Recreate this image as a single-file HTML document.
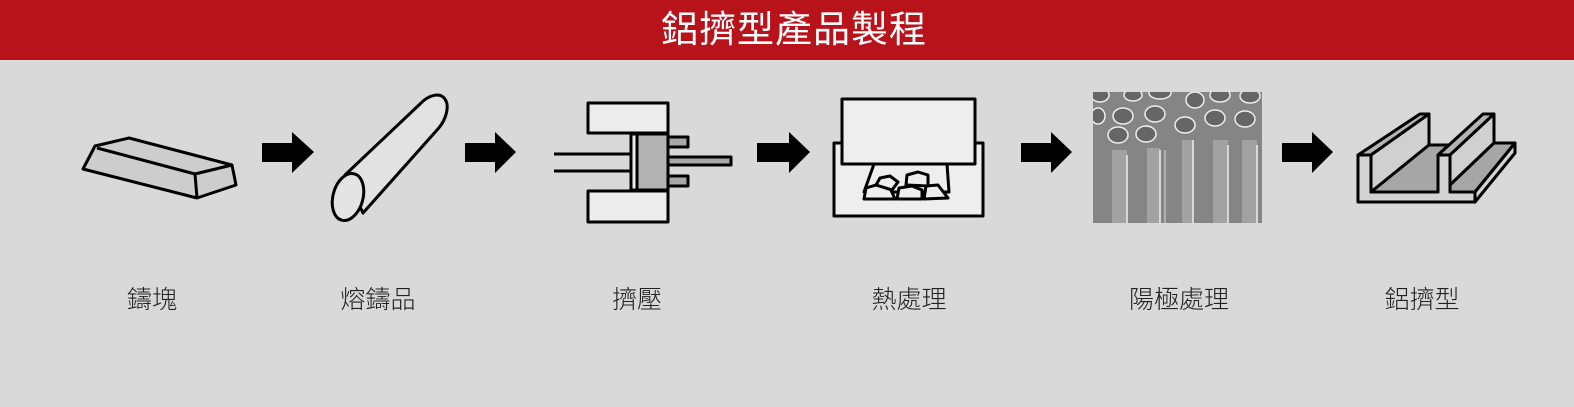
<!DOCTYPE html>
<html><head><meta charset="utf-8"><style>
html,body{margin:0;padding:0;}
body{width:1574px;height:407px;background:#d9d9d9;position:relative;overflow:hidden;font-family:"Liberation Sans","Noto Sans CJK TC",sans-serif;}
.bar{position:absolute;left:0;top:0;width:1574px;height:60px;background:#b8121b;}
.title{position:absolute;left:0;top:6px;width:1588px;text-align:center;color:#fff;font-size:37px;line-height:48px;letter-spacing:1px;}
.lbl{position:absolute;top:284px;font-size:25px;line-height:32px;color:#222;font-weight:300;transform:translateX(-50%);white-space:nowrap;}
svg{position:absolute;left:0;top:0;}
</style></head><body>
<div class="bar"></div>
<div class="title">鋁擠型產品製程</div>
<svg width="1574" height="407" viewBox="0 0 1574 407">
<defs>
<clipPath id="cp"><rect x="1093" y="92" width="169" height="131"/></clipPath>
</defs>
<g stroke="#000" stroke-width="3" stroke-linejoin="round" fill="none">
<!-- ingot -->
<polygon points="83,169 95,146 129,138 232,165 236,185 197,198" fill="#cdcdcd"/>
<polyline points="97,148 195,174 232,165"/>
<line x1="195" y1="174" x2="197" y2="198"/>
<!-- cylinder -->
<path d="M345,175 L420,104 A9,15 35 0 1 437,130 L363,213 Z" fill="#e2e2e2"/>
<ellipse cx="348" cy="197" rx="15" ry="24" transform="rotate(15 348 197)" fill="#e4e4e4"/>
<!-- press -->
<rect x="588" y="103" width="80" height="30" fill="#ececec"/>
<rect x="588" y="191" width="80" height="31" fill="#ececec"/>
<line x1="554" y1="154" x2="631" y2="154"/>
<line x1="554" y1="171" x2="631" y2="171"/>
<rect x="668" y="137" width="20" height="10" fill="#a8a8a8"/>
<rect x="668" y="176" width="20" height="10" fill="#a8a8a8"/>
<rect x="668" y="157" width="63" height="8" fill="#a8a8a8"/>
<rect x="631" y="134" width="6" height="56" fill="#ececec"/>
<rect x="637" y="134" width="31" height="56" fill="#b2b2b2"/>
<!-- furnace -->
<rect x="834" y="143" width="149" height="73" fill="#eeeeee"/>
<polygon points="874,164 864,192 949,192 947,164" fill="#eeeeee"/>
<rect x="842" y="99" width="133" height="65" fill="#eeeeee"/>
<path d="M864,199 L866,188 L876,185 L890,188 L895,199 Z" fill="#eee"/>
<path d="M897,199 L899,188 L912,186 L922,190 L922,199 Z" fill="#eee"/>
<path d="M924,199 L926,186 L938,185 L948,198 Z" fill="#eee"/>
<path d="M876,185 L880,178 L890,176 L898,182 L892,190 Z" fill="#eee"/>
<path d="M906,185 L907,175 L918,172 L928,175 L928,186 Z" fill="#eee"/>
<!-- channel -->
<polygon points="1358,155 1371,155 1371,192 1438,192 1438,155 1450,155 1450,192 1475,192 1475,202 1358,202" fill="#d2d2d2"/>
<polygon points="1358,155 1420,114 1429,114 1371,155" fill="#b4b4b4"/>
<polygon points="1371,155 1429,114 1429,145 1371,192" fill="#d0d0d0"/>
<polygon points="1371,192 1429,145 1449,145 1438,155 1438,192" fill="#a6a6a6"/>
<polygon points="1438,155 1483,114 1494,114 1450,155" fill="#b4b4b4"/>
<polygon points="1450,155 1494,114 1494,143 1450,185" fill="#d0d0d0"/>
<polygon points="1450,185 1494,143 1515,143 1475,192 1450,192" fill="#a6a6a6"/>
<polygon points="1475,192 1515,143 1515,153 1475,202" fill="#d2d2d2"/>
</g>
<!-- arrows -->
<g fill="#000">
<polygon points="262,143 292,143 292,132 314,152 292,173 292,162 262,162"/>
<polygon points="465,143 495,143 495,132 516,152 495,173 495,162 465,162"/>
<polygon points="757,143 789,143 789,132 810,152 789,173 789,162 757,162"/>
<polygon points="1021,143 1051,143 1051,132 1072,152 1051,173 1051,162 1021,162"/>
<polygon points="1282,143 1312,143 1312,132 1333,152 1312,173 1312,162 1282,162"/>
</g>
<!-- SEM image -->
<g clip-path="url(#cp)">
<rect x="1093" y="92" width="169" height="131" fill="#858585"/>
<g fill="#a2a2a2">
<rect x="1112" y="150" width="15" height="73"/><rect x="1147" y="148" width="13" height="75"/>
<rect x="1182" y="140" width="11" height="83"/><rect x="1213" y="140" width="15" height="83"/>
<rect x="1242" y="140" width="15" height="83"/>
</g>
<g stroke="#e8e8e8" stroke-width="1.6">
<line x1="1127" y1="155" x2="1127" y2="223"/><line x1="1160" y1="150" x2="1160" y2="223"/>
<line x1="1193" y1="140" x2="1193" y2="223"/><line x1="1228" y1="145" x2="1228" y2="223"/>
<line x1="1257" y1="145" x2="1257" y2="223"/><line x1="1165" y1="150" x2="1165" y2="223" stroke="#bbb"/>
</g>
<g fill="#666" stroke="#eee" stroke-width="1.5">
<ellipse cx="1100" cy="95" rx="9" ry="7"/><ellipse cx="1133" cy="95" rx="9" ry="6"/><ellipse cx="1160" cy="93" rx="11" ry="6"/>
<ellipse cx="1195" cy="100" rx="9" ry="8"/><ellipse cx="1220" cy="95" rx="10" ry="7"/><ellipse cx="1250" cy="96" rx="10" ry="7"/>
<ellipse cx="1098" cy="116" rx="7" ry="8"/><ellipse cx="1123" cy="116" rx="10" ry="8"/><ellipse cx="1155" cy="114" rx="10" ry="8"/>
<ellipse cx="1185" cy="125" rx="10" ry="8"/><ellipse cx="1215" cy="118" rx="10" ry="8"/><ellipse cx="1245" cy="119" rx="10" ry="8"/>
<ellipse cx="1118" cy="135" rx="10" ry="8"/><ellipse cx="1146" cy="134" rx="10" ry="8"/>
</g>
</g>
</svg>
<div class="lbl" style="left:152px">鑄塊</div>
<div class="lbl" style="left:378px">熔鑄品</div>
<div class="lbl" style="left:637px">擠壓</div>
<div class="lbl" style="left:909px">熱處理</div>
<div class="lbl" style="left:1179px">陽極處理</div>
<div class="lbl" style="left:1422px">鋁擠型</div>
</body></html>
